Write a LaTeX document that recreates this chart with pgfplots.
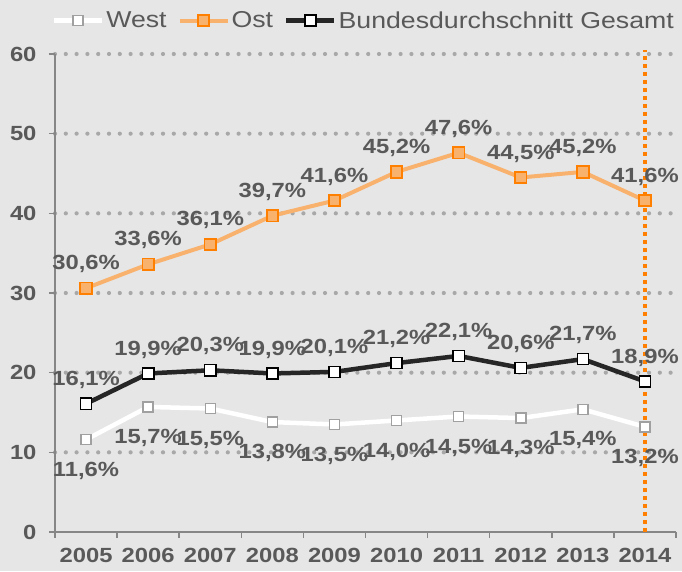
\documentclass[border=0pt]{standalone}
\usepackage{fontspec}
\setmainfont{Liberation Sans}[FakeStretch=1.16]
\usepackage{pgfplots}
\pgfplotsset{compat=1.18}
\definecolor{bg}{HTML}{E6E6E6}
\definecolor{txt}{HTML}{595959}
\definecolor{gridc}{HTML}{A8A8A8}
\definecolor{axc}{HTML}{868686}
\definecolor{ostline}{HTML}{F9B26E}
\definecolor{ostedge}{HTML}{FF7F00}
\definecolor{bund}{HTML}{262626}
\definecolor{westedge}{HTML}{A0A0A0}
\definecolor{vline}{HTML}{FF7F00}
\newcommand{\lblfont}{\fontsize{20.5}{23}\selectfont\bfseries}
\begin{document}
\begin{tikzpicture}
\path[use as bounding box, fill=bg] (-55pt,-39pt) rectangle (627pt,532pt);
\begin{axis}[
  at={(0pt,0pt)}, anchor=south west,
  scale only axis, width=621pt, height=478pt,
  xmin=-0.5, xmax=9.5, ymin=0, ymax=60,
  clip=false,
  axis x line*=bottom, axis y line*=left,
  axis line style={axc, line width=1.5pt, -},
  tick align=outside,
  major tick length=6pt, minor tick length=6pt,
  xtick={0,...,9},
  xticklabels={2005,2006,2007,2008,2009,2010,2011,2012,2013,2014},
  major x tick style={draw=none},
  minor xtick={-0.5,0.5,...,9.5},
  minor x tick style={axc, line width=1.5pt},
  major y tick style={axc, line width=1.5pt},
  ytick={10,20,...,60},
  extra y ticks={0},
  extra y tick style={grid=none},
  ymajorgrids,
  grid style={gridc, line width=4.2pt, line cap=round, dash pattern=on 0pt off 10.8pt},
  /pgf/number format/assume math mode=true,
  ticklabel style={font=\fontsize{20.5}{23}\selectfont\bfseries, text=txt},
  xticklabel style={yshift=-7pt},
  yticklabel style={xshift=-9pt},
  legend columns=-1,
  legend style={draw=none, fill=none, at={(axis description cs:1.0,1.07)}, anchor=east,
    font=\fontsize{23}{26}\selectfont, text=txt, inner sep=0pt,
    /tikz/every even column/.append style={column sep=9pt}},
  legend image code/.code={\draw[mark repeat=2, mark phase=2, #1] plot coordinates {(0pt,0pt) (24pt,0pt) (48pt,0pt)};},
]
\addplot[draw=white, line width=4.5pt, mark=square*, mark size=5pt,
  mark options={fill=white, draw=westedge, line width=1.5pt, solid},
  nodes near coords, point meta=explicit symbolic,
  every node near coord/.append style={anchor=center, yshift=-31pt, font=\lblfont, text=txt}]
coordinates {(0,11.6) [11,6\%] (1,15.7) [15,7\%] (2,15.5) [15,5\%] (3,13.8) [13,8\%] (4,13.5) [13,5\%]
 (5,14.0) [14,0\%] (6,14.5) [14,5\%] (7,14.3) [14,3\%] (8,15.4) [15,4\%] (9,13.2) [13,2\%]};
\addlegendentry{West}
\addplot[draw=ostline, line width=4pt, mark=square*, mark size=5.75pt,
  mark options={fill=ostline, draw=ostedge, line width=1.8pt, solid},
  nodes near coords, point meta=explicit symbolic,
  every node near coord/.append style={anchor=center, yshift=24pt, font=\lblfont, text=txt}]
coordinates {(0,30.6) [30,6\%] (1,33.6) [33,6\%] (2,36.1) [36,1\%] (3,39.7) [39,7\%] (4,41.6) [41,6\%]
 (5,45.2) [45,2\%] (6,47.6) [47,6\%] (7,44.5) [44,5\%] (8,45.2) [45,2\%] (9,41.6) [41,6\%]};
\addlegendentry{Ost}
\addplot[draw=bund, line width=4.5pt, mark=square*, mark size=5.6pt,
  mark options={fill=white, draw=black, line width=1.5pt, solid},
  nodes near coords, point meta=explicit symbolic,
  every node near coord/.append style={anchor=center, yshift=24pt, font=\lblfont, text=txt}]
coordinates {(0,16.1) [16,1\%] (1,19.9) [19,9\%] (2,20.3) [20,3\%] (3,19.9) [19,9\%] (4,20.1) [20,1\%]
 (5,21.2) [21,2\%] (6,22.1) [22,1\%] (7,20.6) [20,6\%] (8,21.7) [21,7\%] (9,18.9) [18,9\%]};
\addlegendentry{Bundesdurchschnitt Gesamt}
\addplot[forget plot, vline, line width=3.5pt, dash pattern=on 4pt off 4pt]
coordinates {(9,0) (9,60.5)};
\end{axis}
\end{tikzpicture}
\end{document}
